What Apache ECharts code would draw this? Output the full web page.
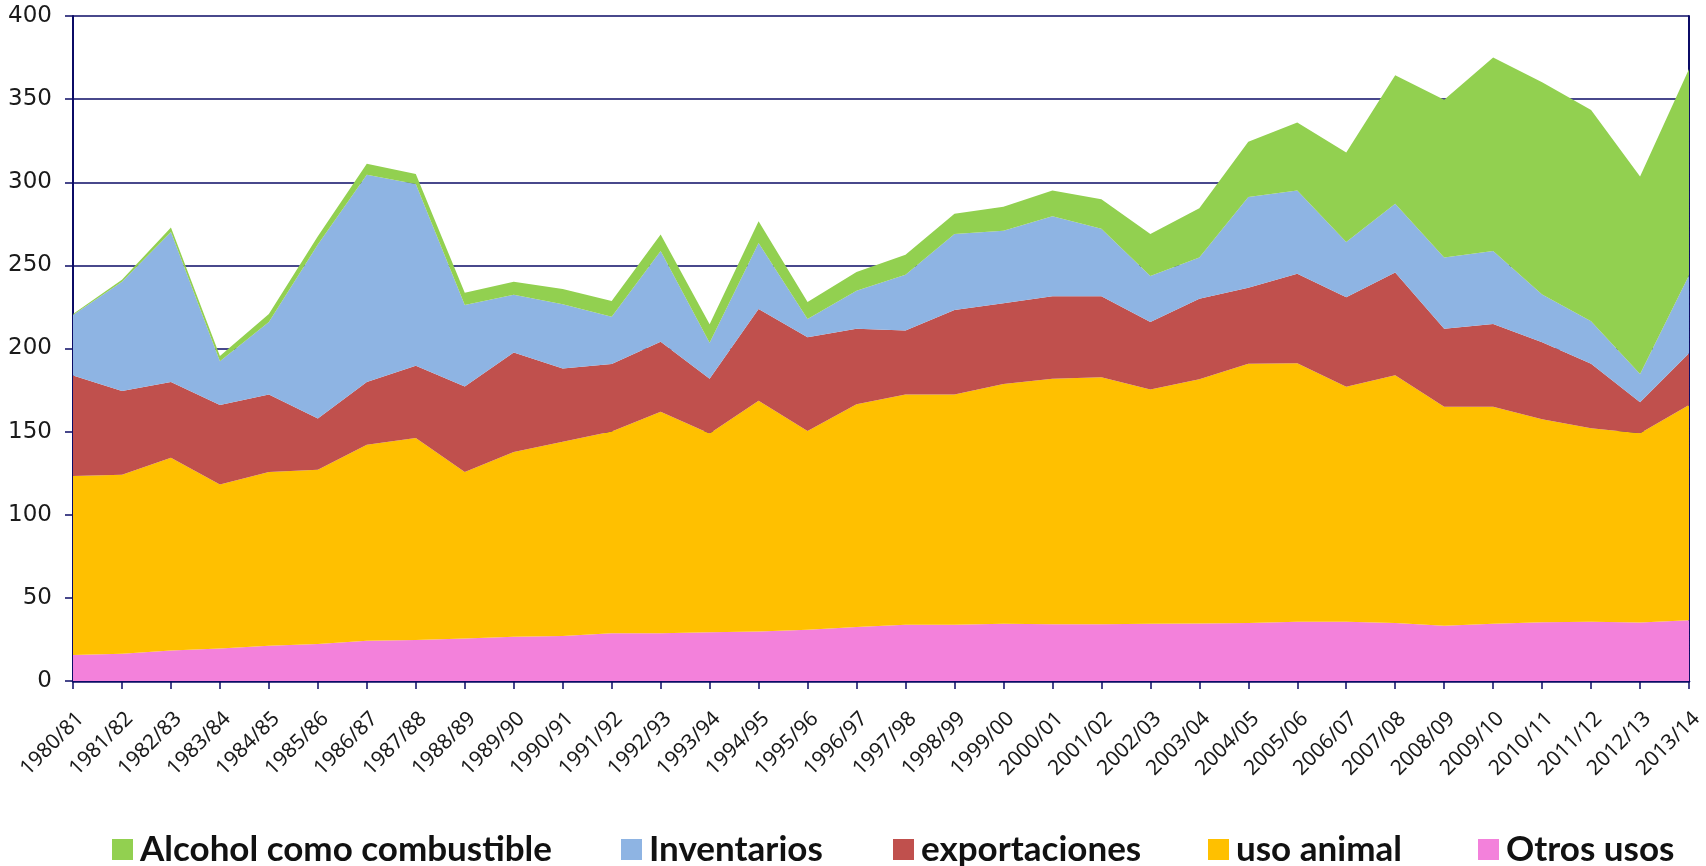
<!DOCTYPE html>
<html>
<head>
<meta charset="utf-8">
<title>Usos del maíz</title>
<script src="https://cdn.jsdelivr.net/npm/echarts@6/dist/echarts.min.js"></script>
<style>
  html, body { margin: 0; padding: 0; background: #fff; }
</style>
</head>
<body>
<!-- contenedor del gráfico -->
<div id="chart" style="width: 1706px;height:866px;"></div>
<script>
// campañas (eje x)
const categories = ['1980/81', '1981/82', '1982/83', '1983/84', '1984/85', '1985/86', '1986/87', '1987/88', '1988/89', '1989/90',
  '1990/91', '1991/92', '1992/93', '1993/94', '1994/95', '1995/96', '1996/97', '1997/98', '1998/99', '1999/00',
  '2000/01', '2001/02', '2002/03', '2003/04', '2004/05', '2005/06', '2006/07', '2007/08', '2008/09', '2009/10',
  '2010/11', '2011/12', '2012/13', '2013/14']

// valores de cada serie (apiladas de abajo hacia arriba)
const otrosUsos = [15.6, 16.4, 18.3, 19.6, 21.2, 22.3, 24.2, 24.7, 25.5, 26.6,
  27.1, 28.7, 28.7, 29.3, 29.8, 30.9, 32.5, 33.8, 33.8, 34.4,
  34.1, 34.2, 34.4, 34.6, 34.9, 35.7, 35.7, 34.9, 33.3, 34.4,
  35.4, 35.7, 35.2, 36.5]
const usoAnimal = [107.7, 107.7, 116.0, 98.6, 104.5, 104.7, 117.9, 121.4, 100.2, 111.2,
  116.8, 121.4, 133.2, 119.5, 138.8, 119.5, 134.0, 138.6, 138.6, 144.2,
  147.7, 148.5, 140.9, 146.9, 156.0, 155.5, 141.3, 149.0, 131.6, 130.5,
  122.0, 116.3, 113.8, 129.5]
const exportaciones = [60.4, 50.4, 45.6, 47.8, 46.7, 30.9, 37.8, 43.5, 51.5, 59.8,
  44.1, 40.6, 42.2, 33.0, 55.1, 56.4, 45.4, 38.4, 50.7, 48.6,
  49.7, 48.8, 40.6, 48.4, 45.7, 53.7, 53.9, 61.8, 47.0, 49.9,
  46.4, 38.9, 18.6, 31.1]
const inventarios = [36.5, 65.6, 90.2, 26.3, 43.5, 104.7, 124.6, 109.3, 48.9, 34.7,
  38.6, 28.4, 54.5, 21.7, 39.7, 11.0, 22.8, 33.6, 45.7, 43.7,
  48.0, 40.6, 27.7, 24.9, 54.5, 50.2, 33.1, 41.4, 42.9, 43.8,
  28.7, 25.5, 17.1, 47.0]
const alcohol = [0.5, 1.3, 2.7, 3.2, 4.8, 4.9, 6.7, 6.1, 7.5, 7.8,
  9.2, 9.4, 9.9, 11.1, 13.2, 10.2, 11.3, 12.0, 12.3, 14.3,
  15.6, 17.7, 25.2, 29.6, 33.3, 40.8, 53.9, 77.3, 94.8, 116.5,
  127.6, 127.0, 118.7, 124.0]

// marcas del eje y
const yTicks = [0, 50, 100, 150, 200, 250, 300, 350, 400]

const navy = '#0b0b66'

function areaSerie (name, data, color) {
  return {
    name: name,
    type: 'line',
    stack: 'total',
    data: data,
    symbol: 'none',
    lineStyle: { width: 0 },
    areaStyle: { color: color, opacity: 1 },
    itemStyle: { color: color },
    emphasis: { disabled: true }
  }
}

// cada elemento de la leyenda va en su sitio
function legendItem (name, left) {
  return {
    data: [name],
    left: left,
    top: 827,
    itemWidth: 21,
    itemHeight: 21,
    itemGap: 0,
    icon: 'rect',
    textStyle: { fontFamily: 'Lato', fontWeight: 'bold', fontSize: 35, color: '#111', padding: [0, 0, 0, 2] }
  }
}

const myChart = echarts.init(document.getElementById('chart'))

const option = {
  animation: false,
  backgroundColor: '#fff',
  legend: [
    legendItem('Alcohol como combustible', 107),
    legendItem('Inventarios', 616),
    legendItem('exportaciones', 888),
    legendItem('uso animal', 1203),
    legendItem('Otros usos', 1473)
  ],
  grid: {
    left: 73,
    right: 16,
    top: 16,
    bottom: 185
  },
  xAxis: {
    type: 'category',
    boundaryGap: false,
    data: categories,
    axisLine: { show: true, lineStyle: { color: navy, width: 2.5 } },
    axisTick: { show: true, alignWithLabel: true, length: 8, lineStyle: { color: navy, width: 1.5 } },
    axisLabel: {
      interval: 0,
      rotate: 45,
      margin: 27,
      verticalAlign: 'top',
      fontFamily: 'Noto Sans',
      fontSize: 21,
      color: '#1a1a1a'
    },
    splitLine: { show: false }
  },
  yAxis: [
    {
      type: 'value',
      min: yTicks[0],
      max: yTicks[yTicks.length - 1],
      interval: 50,
      axisLine: { show: true, lineStyle: { color: navy, width: 2 } },
      axisTick: { show: true, length: 8, lineStyle: { color: navy, width: 1.5 } },
      axisLabel: { margin: 21, fontFamily: 'DejaVu Sans', fontSize: 23, color: '#1a1a1a' },
      splitLine: { show: true, lineStyle: { color: navy, width: 1.5 } }
    },
    {
      // borde derecho del área de trazado
      type: 'value',
      position: 'right',
      min: yTicks[0],
      max: yTicks[yTicks.length - 1],
      interval: 50,
      axisLine: { show: true, lineStyle: { color: navy, width: 2 } },
      axisTick: { show: false },
      axisLabel: { show: false },
      splitLine: { show: false }
    }
  ],
  series: [
    areaSerie('Otros usos', otrosUsos, '#F381DB'),
    areaSerie('uso animal', usoAnimal, '#FFC000'),
    areaSerie('exportaciones', exportaciones, '#C0504D'),
    areaSerie('Inventarios', inventarios, '#8EB4E3'),
    areaSerie('Alcohol como combustible', alcohol, '#92D050')
  ]
}

myChart.setOption(option)
</script>
</body>
</html>
